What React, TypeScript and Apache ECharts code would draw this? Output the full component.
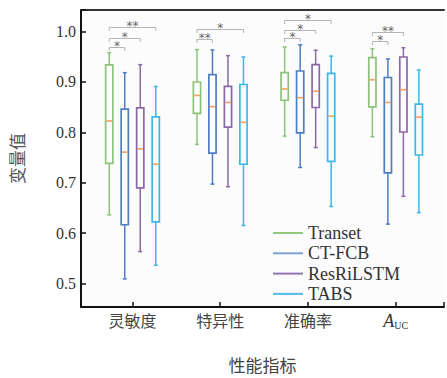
import React, { useEffect, useRef } from 'react';
import * as echarts from 'echarts';

const categories = ['灵敏度', '特异性', '准确率', 'AUC'];
const seriesNames = ['Transet', 'CT-FCB', 'ResRiLSTM', 'TABS'];

// [min, Q1, median, Q3, max] per category
const transet = [
  [0.636, 0.7385, 0.8225, 0.934, 0.958],
  [0.776, 0.8378, 0.8733, 0.9, 0.9643],
  [0.7925, 0.8637, 0.8861, 0.9185, 0.9695],
  [0.7912, 0.8504, 0.9045, 0.9485, 0.9662],
];
const ctfcb = [
  [0.5088, 0.6164, 0.7607, 0.846, 0.9185],
  [0.6971, 0.7588, 0.8511, 0.9147, 0.9637],
  [0.7302, 0.7989, 0.8689, 0.9218, 0.9739],
  [0.6176, 0.7195, 0.8594, 0.9089, 0.9458],
];
const resrilstm = [
  [0.563, 0.6895, 0.7672, 0.8485, 0.9344],
  [0.692, 0.8103, 0.8594, 0.8912, 0.9523],
  [0.7697, 0.8493, 0.8817, 0.9345, 0.963],
  [0.6729, 0.8006, 0.8847, 0.9496, 0.9681],
];
const tabs = [
  [0.5359, 0.622, 0.7366, 0.8307, 0.891],
  [0.615, 0.7366, 0.8199, 0.895, 0.9496],
  [0.6527, 0.7424, 0.832, 0.9172, 0.9515],
  [0.6405, 0.755, 0.8302, 0.8561, 0.924],
];
const yTickLabels = ['0.5', '0.6', '0.7', '0.8', '0.9', '1.0'];

// significance brackets
const bracketGroup = [0, 0, 0, 1, 1, 2, 2, 2, 3, 3];
const bracketFrom = [0, 0, 0, 0, 0, 0, 0, 0, 0, 0];
const bracketTo = [3, 2, 1, 3, 1, 3, 2, 1, 2, 1];
const bracketLevel = [1.0088, 0.9866, 0.9695, 1.0057, 0.9853, 1.0235, 1.0025, 0.9866, 1.0, 0.9815];
const bracketMark = ['**', '*', '*', '*', '**', '*', '*', '*', '**', '*'];

const allSeries = [transet, ctfcb, resrilstm, tabs];
const colors = ['#8cc27a', '#4f7dbf', '#8b68aa', '#3fb6e6'];
const legendColors = ['#93c77e', '#7ea2cf', '#9373b2', '#52bde6'];
const medianColor = '#f5a260';
const offsets = [-23.25, -7.75, 7.75, 23.25];

const X_MIN = -0.58725;
const X_MAX = 3.55145;

export default function App() {
  const ref = useRef<HTMLDivElement>(null);
  useEffect(() => {
    if (!ref.current) return;
    const chart = echarts.init(ref.current, undefined, { renderer: 'svg' });

    const boxSeries = allSeries.map((rows, s) => ({
      type: 'custom',
      name: seriesNames[s],
      xAxisIndex: 0,
      yAxisIndex: 0,
      z: 10,
      clip: false,
      silent: true,
      data: rows.map((r, i) => [i, ...r]),
      encode: { x: 0, y: [1, 2, 3, 4, 5] },
      itemStyle: { color: colors[s] },
      renderItem: (params: any, api: any) => {
        const i = api.value(0);
        const cx = api.coord([i, api.value(3)])[0] + offsets[s];
        const yy = (k: number) => api.coord([i, api.value(k)])[1];
        const yMin = yy(1), yQ1 = yy(2), yMed = yy(3), yQ3 = yy(4), yMax = yy(5);
        const hw = 3.6;
        const cap = 2;
        const stroke = colors[s];
        const lw = 1.5;
        return {
          type: 'group',
          children: [
            { type: 'line', shape: { x1: cx, y1: yQ1, x2: cx, y2: yMin }, style: { stroke, lineWidth: lw } },
            { type: 'line', shape: { x1: cx - cap, y1: yMin, x2: cx + cap, y2: yMin }, style: { stroke, lineWidth: lw } },
            { type: 'line', shape: { x1: cx, y1: yQ3, x2: cx, y2: yMax }, style: { stroke, lineWidth: lw } },
            { type: 'line', shape: { x1: cx - cap, y1: yMax, x2: cx + cap, y2: yMax }, style: { stroke, lineWidth: lw } },
            {
              type: 'rect',
              shape: { x: cx - hw, y: yQ3, width: hw * 2, height: yQ1 - yQ3 },
              style: { fill: 'rgba(255,255,255,0)', stroke, lineWidth: 1.7 },
            },
            { type: 'line', shape: { x1: cx - hw + 0.8, y1: yMed, x2: cx + hw - 0.8, y2: yMed }, style: { stroke: medianColor, lineWidth: 1.7 } },
          ],
        };
      },
    }));

    const bracketSeries = {
      type: 'custom',
      xAxisIndex: 0,
      yAxisIndex: 0,
      z: 10,
      clip: false,
      silent: true,
      data: bracketGroup.map((g, k) => [g, bracketLevel[k]]),
      encode: { x: 0, y: 1 },
      renderItem: (params: any, api: any) => {
        const k = params.dataIndex;
        const p = api.coord([api.value(0), api.value(1)]);
        const x1 = p[0] + offsets[bracketFrom[k]];
        const x2 = p[0] + offsets[bracketTo[k]];
        const y = Math.round(p[1]) + 0.5;
        return {
          type: 'group',
          children: [
            {
              type: 'polyline',
              shape: { points: [[x1, y + 3.5], [x1, y], [x2, y], [x2, y + 3.5]] },
              style: { stroke: '#b5b5b5', lineWidth: 1, fill: 'none' },
            },
            {
              type: 'text',
              x: (x1 + x2) / 2,
              y: y - 1.5,
              style: {
                text: bracketMark[k],
                fill: '#666',
                font: '12px "DejaVu Sans"',
                textAlign: 'center',
                textVerticalAlign: 'middle',
              },
            },
          ],
        };
      },
    };

    const option: any = {
      animation: false,
      backgroundColor: '#ffffff',
      grid: { left: 81, top: 10, right: -4, bottom: 59, show: true, backgroundColor: '#fcfcfc', borderWidth: 0 },
      legend: {
        orient: 'vertical',
        left: 266,
        top: 219,
        padding: [5, 12, 5, 7],
        itemGap: 2.3,
        itemWidth: 30,
        itemHeight: 2,
        backgroundColor: 'transparent',
        textStyle: { fontFamily: '"Liberation Serif"', fontSize: 18, color: '#333', lineHeight: 18 },
        data: seriesNames.map((n, i) => ({ name: n, icon: 'rect', itemStyle: { color: legendColors[i], borderWidth: 0 } })),
      },
      xAxis: [
        {
          type: 'value',
          min: X_MIN,
          max: X_MAX,
          position: 'bottom',
          name: '性能指标',
          nameLocation: 'middle',
          nameGap: 49,
          nameTextStyle: { fontFamily: '"Noto Sans CJK SC"', fontSize: 17, color: '#444' },
          axisLine: { show: true, onZero: false, lineStyle: { color: '#111', width: 2 } },
          axisTick: { show: true, inside: true, length: 5, lineStyle: { color: '#111', width: 1.5 } },
          splitLine: { show: false },
          axisLabel: {
            margin: 5,
            fontFamily: '"Noto Sans CJK SC"',
            fontSize: 16,
            color: '#444',
            formatter: (v: number) => {
              const r = Math.round(v);
              if (Math.abs(v - r) > 1e-6 || r < 0 || r >= categories.length) return '';
              if (categories[r] === 'AUC') return '{a|A}{b|UC}';
              return categories[r];
            },
            rich: {
              a: { fontFamily: '"Liberation Serif"', fontStyle: 'italic', fontSize: 18, color: '#333', verticalAlign: 'bottom' },
              b: { fontFamily: '"Liberation Serif"', fontSize: 10, color: '#333', verticalAlign: 'bottom' },
            },
          },
        },
        {
          type: 'value',
          min: X_MIN,
          max: X_MAX,
          position: 'top',
          axisLine: { show: true, onZero: false, lineStyle: { color: '#333', width: 2 } },
          axisTick: { show: false },
          axisLabel: { show: false },
          splitLine: { show: false },
        },
      ],
      yAxis: {
        type: 'value',
        min: 0.453,
        max: 1.043,
        name: '变量值',
        nameLocation: 'middle',
        nameRotate: 90,
        nameGap: 56,
        nameTextStyle: { fontFamily: '"Noto Sans CJK SC"', fontSize: 17, color: '#555' },
        axisLine: { show: true, onZero: false, lineStyle: { color: '#111', width: 2 } },
        axisTick: { show: true, inside: true, length: 5, lineStyle: { color: '#111', width: 1.5 } },
        splitLine: { show: false },
        axisLabel: {
          margin: 5,
          fontFamily: '"Liberation Serif"',
          fontSize: 16,
          color: '#333',
          formatter: (v: number) => {
            const s = v.toFixed(1);
            return Math.abs(v * 10 - Math.round(v * 10)) < 1e-6 && yTickLabels.includes(s) ? s : '';
          },
        },
      },
      series: [...boxSeries, bracketSeries],
    };

    chart.setOption(option);
    return () => chart.dispose();
  }, []);

  return <div ref={ref} style={{ position: 'absolute', left: 0, top: 0, width: 447, height: 378 }} />;
}
